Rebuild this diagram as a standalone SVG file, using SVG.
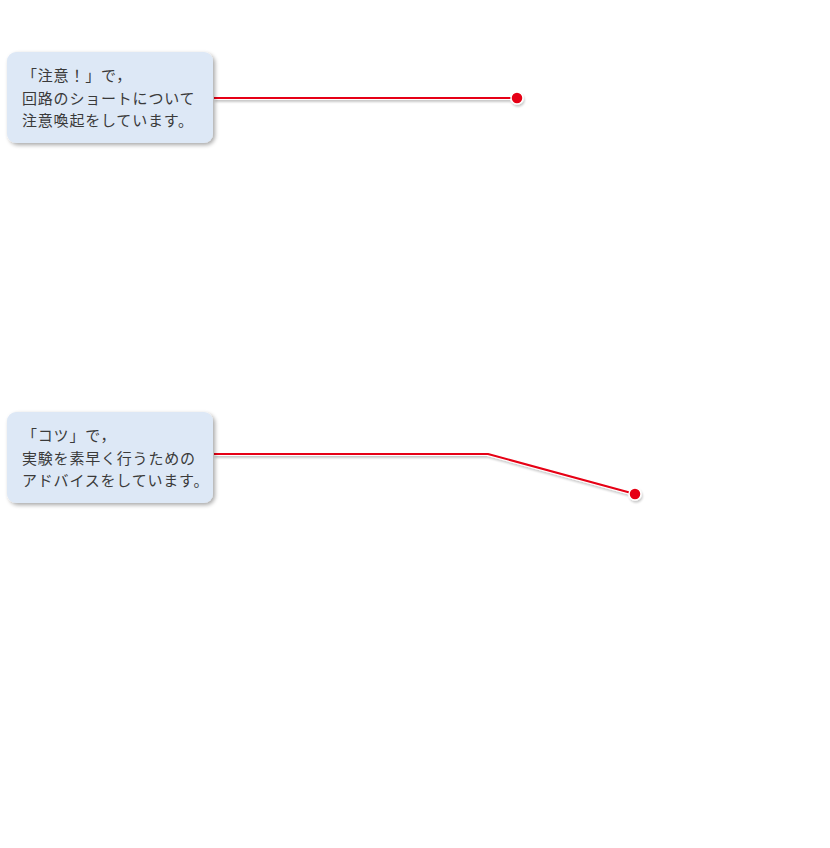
<svg xmlns="http://www.w3.org/2000/svg" width="830" height="848" viewBox="0 0 830 848">
<defs>
<filter id="sh" x="-10%" y="-10%" width="130%" height="140%">
<feGaussianBlur in="SourceAlpha" stdDeviation="2"/>
<feOffset dx="1.5" dy="2" result="b"/>
<feComponentTransfer><feFuncA type="linear" slope="0.35"/></feComponentTransfer>
<feMerge><feMergeNode/><feMergeNode in="SourceGraphic"/></feMerge>
</filter>
<filter id="lsh" x="-5%" y="-50%" width="110%" height="300%">
<feGaussianBlur in="SourceAlpha" stdDeviation="1"/>
<feOffset dx="1" dy="1.5" result="b"/>
<feComponentTransfer><feFuncA type="linear" slope="0.22"/></feComponentTransfer>
<feMerge><feMergeNode/><feMergeNode in="SourceGraphic"/></feMerge>
</filter>
</defs>
<style>
.box{fill:#dde8f6;}
.t{font-family:"Noto Sans CJK JP","Noto Sans CJK SC",sans-serif;font-size:15px;letter-spacing:0.8px;fill:#3a3a3a;}
.halo{fill:none;stroke:#fff;stroke-width:4;stroke-linejoin:round;}
.ln{fill:none;stroke:#e60012;stroke-width:2;stroke-linejoin:round;}
.dot{fill:#e60012;stroke:#fff;stroke-width:1.5;}
</style>
<rect width="830" height="848" fill="#fff"/>
<g id="connectors">
<g filter="url(#lsh)">
<polyline class="halo" points="214,98 517,98"/>
<polyline class="ln" points="214,98 517,98"/>
<circle class="dot" cx="517" cy="98" r="6"/>
</g>
<g filter="url(#lsh)">
<polyline class="halo" points="214,454 488,454 635,494"/>
<polyline class="ln" points="214,454 488,454 635,494"/>
<circle class="dot" cx="635" cy="494" r="6"/>
</g>
</g>
<g id="node1">
<rect class="box" x="7" y="52" width="206" height="91" rx="9" filter="url(#sh)"/>
<text class="t" x="22" y="81">「注意！」で，</text>
<text class="t" x="22" y="104">回路のショートについて</text>
<text class="t" x="22" y="126">注意喚起をしています。</text>
</g>
<g id="node2">
<rect class="box" x="7" y="412" width="206" height="91" rx="9" filter="url(#sh)"/>
<text class="t" x="22" y="441">「コツ」で，</text>
<text class="t" x="22" y="464">実験を素早く行うための</text>
<text class="t" x="22" y="486">アドバイスをしています。</text>
</g>
</svg>
